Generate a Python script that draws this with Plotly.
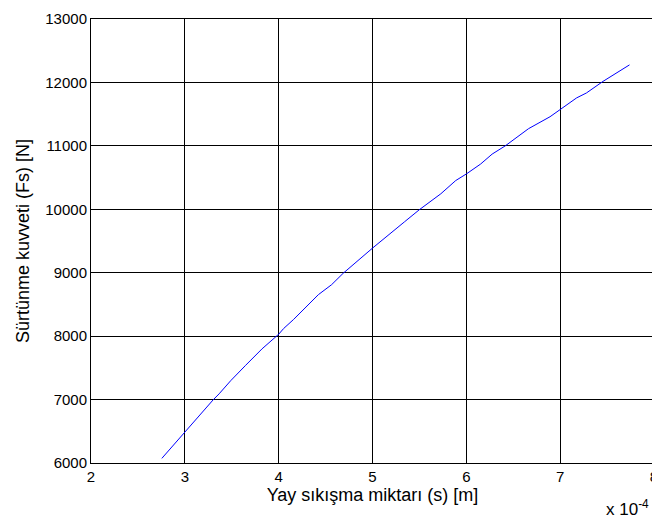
import plotly.graph_objects as go

# Spring compression (in units of 1e-4 m) and friction force (N)
s_e4 = [2.755, 3.0, 3.302, 3.365, 3.489, 3.648, 3.823, 4.0, 4.053, 4.159,
        4.352, 4.423, 4.564, 4.688, 5.005, 5.129, 5.340, 5.499, 5.728, 5.887,
        6.0, 6.152, 6.275, 6.416, 6.663, 6.892, 6.998, 7.175, 7.28, 7.457, 7.739]
fs = [6073, 6490, 6996, 7090, 7298, 7540, 7800, 8030, 8120, 8263,
      8550, 8654, 8811, 8992, 9394, 9540, 9801, 9993, 10244, 10453,
      10557, 10713, 10870, 11001, 11271, 11459, 11573, 11756, 11834, 12017, 12277]
s = [v * 1e-4 for v in s_e4]

x_ticks = [2, 3, 4, 5, 6, 7, 8]
y_ticks = [6000, 7000, 8000, 9000, 10000, 11000, 12000, 13000]

fig = go.Figure()
fig.add_trace(go.Scatter(x=s, y=fs, mode="lines",
                         line=dict(color="#0000FF", width=1), showlegend=False))

font = dict(family="Liberation Sans, Arial, sans-serif", size=15, color="black")
fig.update_layout(
    width=652, height=514,
    margin=dict(l=83, r=2, t=7, b=59),
    paper_bgcolor="white", plot_bgcolor="white",
    font=font,
    xaxis=dict(range=[2e-4, 8e-4], tickvals=[v * 1e-4 for v in x_ticks],
               ticktext=[str(v) for v in x_ticks], ticklabeloverflow="allow",
               showgrid=True, gridcolor="black", gridwidth=1,
               showline=True, linecolor="black", linewidth=1, mirror="ticks",
               ticks="inside", ticklen=4, tickcolor="black", zeroline=False,
               title=dict(text="Yay sıkışma miktarı (s) [m]", standoff=4)),
    yaxis=dict(range=[6000, 13000], tickvals=y_ticks,
               ticktext=[str(v) for v in y_ticks], ticklabeloverflow="allow",
               showgrid=True, gridcolor="black", gridwidth=1,
               showline=True, linecolor="black", linewidth=1, mirror="ticks",
               ticks="inside", ticklen=4, tickcolor="black", zeroline=False,
               title=dict(text="Sürtünme kuvveti (Fs) [N]", standoff=10)),
    annotations=[dict(text="x 10<sup>-4</sup>", xref="paper", yref="paper",
                      x=1.0, y=-0.072, xanchor="right", yanchor="top",
                      xshift=-3, showarrow=False,
                      font=dict(family="Liberation Sans, Arial, sans-serif",
                                size=17, color="black"))],
)
fig.write_html("out.html")
